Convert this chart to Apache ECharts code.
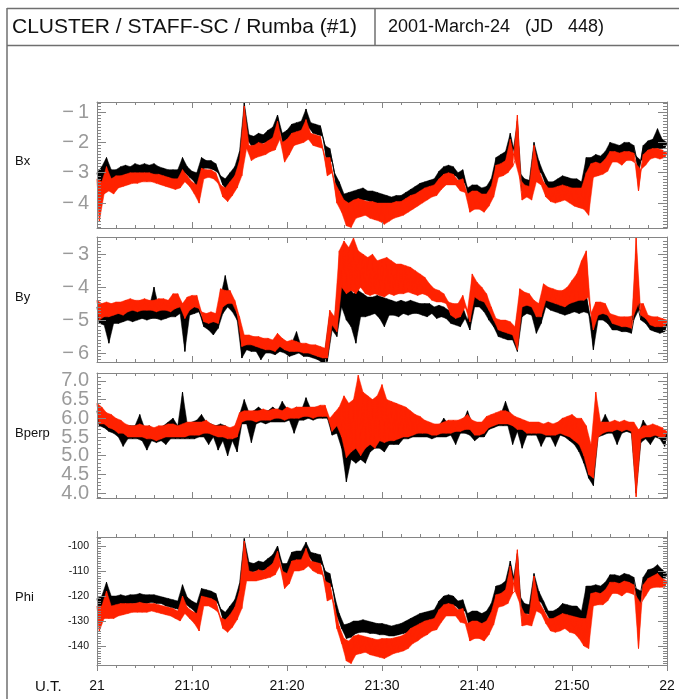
<!DOCTYPE html>
<html>
<head>
<meta charset="utf-8">
<script src="https://cdn.jsdelivr.net/npm/echarts@6/dist/echarts.min.js"></script>
<style>
html,body{margin:0;padding:0;background:#fff;}
#c{width:679px;height:699px;}
</style>
</head>
<body>
<div id="c"></div>
<script>
// Samples every 15 s (0.25 min) from 21:00 to 22:00 UT; each trace alternates
// between the upper and lower edge of its wave band.
const STEP = 0.25;
const timeLabels = ['21', '21:10', '21:20', '21:30', '21:40', '21:50', '22'];
const panelNames = ['Bx', 'By', 'Bperp', 'Phi'];

const bxBlack = [
-3.0,-3.4,-2.8,-3.2, -2.5,-3.1,-2.9,-3.3,
-2.9,-3.2,-2.8,-3.15, -2.75,-3.1,-2.8,-3.1,
-2.7,-3.05,-2.75,-3.1, -2.7,-3.05,-2.75,-3.05,
-2.7,-3.1,-2.8,-3.1, -2.85,-3.15,-2.9,-3.2,
-2.9,-3.3,-2.9,-3.25, -2.5,-3.0,-2.8,-3.15,
-2.95,-3.3,-3.0,-3.9, -2.5,-2.85,-2.6,-2.85,
-2.6,-2.9,-2.7,-3.0, -3.1,-3.4,-3.2,-3.6,
-3.0,-3.4,-2.8,-3.2, -2.3,-2.8,-0.7,-1.9,
-1.75,-2.1,-1.8,-2.1, -1.7,-2.05,-1.75,-2.0,
-1.6,-1.95,-1.5,-1.9, -1.1,-1.6,-1.7,-2.3,
-1.6,-2.0,-1.4,-1.7, -1.35,-1.65,-1.3,-1.6,
-0.9,-1.5,-1.35,-1.7, -1.4,-1.75,-1.45,-1.8,
-2.1,-2.8,-2.2,-2.6, -3.0,-3.6,-3.3,-3.8,
-3.7,-4.15,-3.65,-4.1, -3.6,-3.95,-3.55,-3.9,
-3.5,-3.9,-3.6,-3.95, -3.6,-4.0,-3.65,-4.05,
-3.7,-4.05,-3.75,-4.1, -3.8,-4.1,-3.75,-4.05,
-3.75,-4.05,-3.65,-3.95, -3.55,-3.9,-3.45,-3.8,
-3.35,-3.7,-3.3,-3.6, -3.25,-3.55,-3.2,-3.5,
-2.95,-3.3,-2.8,-3.1, -2.75,-3.1,-2.8,-3.1,
-3.0,-3.3,-2.9,-3.35, -3.5,-4.0,-3.4,-3.9,
-3.4,-3.9,-3.5,-4.0, -3.45,-3.8,-3.2,-3.5,
-2.5,-2.85,-2.4,-2.8, -2.3,-2.7,-1.7,-2.4,
-2.4,-1.3,-3.0,-3.6, -3.2,-3.5,-3.25,-3.5,
-2.0,-3.0,-2.6,-3.0, -3.0,-3.4,-3.3,-3.65,
-3.3,-3.7,-3.2,-3.6, -3.1,-3.5,-3.15,-3.55,
-3.2,-3.55,-3.2,-3.6, -3.3,-3.6,-2.5,-3.7,
-2.5,-2.85,-2.4,-2.8, -2.45,-2.8,-2.3,-2.65,
-2.0,-2.4,-2.05,-2.4, -2.1,-2.5,-2.0,-2.35,
-2.0,-2.35,-2.1,-2.45, -3.0,-2.6,-2.1,-2.5,
-1.95,-2.3,-1.9,-2.2, -1.55,-2.2,-1.9,-2.2,
-2.0
];
const bxRed = [
-3.2,-4.6,-3.3,-3.7, -2.8,-3.6,-3.2,-3.7,
-3.1,-3.5,-3.1,-3.45, -3.05,-3.4,-3.0,-3.35,
-3.0,-3.35,-3.0,-3.3, -3.0,-3.3,-3.0,-3.3,
-3.05,-3.35,-3.05,-3.4, -3.1,-3.45,-3.15,-3.5,
-3.2,-3.55,-3.2,-3.5, -2.9,-3.3,-3.1,-3.45,
-3.3,-3.7,-3.4,-4.0, -2.85,-3.2,-2.9,-3.15,
-2.9,-3.2,-3.0,-3.35, -3.4,-3.8,-3.5,-3.95,
-3.3,-3.75,-3.1,-3.5, -2.6,-3.1,-0.8,-2.2,
-2.1,-2.6,-2.1,-2.5, -2.0,-2.45,-2.05,-2.4,
-1.95,-2.3,-1.85,-2.25, -1.3,-1.9,-2.0,-2.65,
-1.9,-2.4,-1.7,-2.1, -1.65,-2.05,-1.6,-2.0,
-1.25,-1.9,-1.7,-2.1, -1.75,-2.15,-1.8,-2.2,
-2.5,-3.1,-2.5,-3.0, -3.3,-4.0,-3.6,-4.3,
-3.9,-4.75,-4.0,-4.8, -3.9,-4.5,-3.85,-4.45,
-3.9,-4.4,-3.95,-4.5, -3.95,-4.55,-4.0,-4.6,
-4.0,-4.7,-4.0,-4.6, -4.0,-4.5,-3.95,-4.45,
-3.95,-4.4,-3.85,-4.3, -3.75,-4.2,-3.7,-4.1,
-3.6,-4.0,-3.5,-3.9, -3.45,-3.8,-3.4,-3.75,
-3.2,-3.55,-3.05,-3.4, -3.0,-3.4,-3.05,-3.4,
-3.25,-3.6,-3.2,-3.65, -3.7,-4.3,-3.6,-4.2,
-3.6,-4.2,-3.7,-4.3, -3.7,-4.1,-3.45,-3.8,
-2.75,-3.15,-2.7,-3.1, -2.6,-3.0,-1.9,-2.8,
-2.6,-1.1,-3.2,-3.9, -3.4,-3.8,-3.45,-3.9,
-2.1,-3.3,-2.9,-3.4, -3.3,-3.8,-3.5,-3.95,
-3.5,-4.0,-3.45,-3.95, -3.4,-3.9,-3.45,-4.0,
-3.5,-4.1,-3.5,-4.15, -3.5,-4.2,-3.0,-4.4,
-2.7,-3.15,-2.65,-3.1, -2.7,-3.05,-2.55,-2.95,
-2.3,-2.65,-2.3,-2.65, -2.35,-2.75,-2.3,-2.6,
-2.3,-2.6,-2.35,-2.7, -3.6,-2.9,-2.4,-2.75,
-2.25,-2.55,-2.2,-2.5, -2.2,-2.55,-2.25,-2.5,
-2.35
];

const byBlack = [
-4.6,-5.1,-4.7,-5.15, -4.7,-5.7,-4.75,-5.1,
-4.7,-5.1,-4.65,-5.05, -4.65,-5.0,-4.6,-5.05,
-4.6,-5.0,-4.65,-4.95, -4.6,-5.0,-4.6,-4.95,
-4.0,-4.95,-4.6,-5.0, -4.55,-4.95,-4.6,-4.9,
-4.45,-4.9,-4.4,-4.8, -4.7,-5.95,-4.5,-4.85,
-4.45,-4.8,-4.4,-4.75, -4.9,-5.2,-4.95,-5.3,
-4.9,-5.45,-4.95,-5.25, -4.3,-4.8,-3.65,-4.6,
-4.3,-4.75,-4.6,-5.0, -5.1,-6.15,-5.6,-5.9,
-5.6,-5.95,-5.65,-5.95, -5.6,-6.2,-5.7,-6.0,
-5.65,-6.0,-5.7,-6.05, -5.5,-5.95,-5.7,-6.0,
-5.75,-6.1,-5.7,-6.05, -5.35,-6.0,-5.8,-6.1,
-5.8,-6.1,-5.85,-6.15, -5.85,-6.2,-5.9,-6.3,
-5.9,-6.25,-4.8,-5.3, -5.0,-5.5,-3.5,-4.6,
-3.9,-5.0,-4.0,-5.2, -4.2,-5.7,-4.1,-4.9,
-4.2,-4.9,-4.3,-4.85, -4.3,-4.8,-4.25,-4.95,
-4.3,-5.2,-4.35,-4.85, -4.4,-4.85,-4.45,-4.9,
-4.4,-4.8,-4.45,-4.85, -4.4,-4.8,-4.45,-4.8,
-4.5,-4.85,-4.5,-4.9, -4.5,-4.8,-4.6,-4.95,
-4.55,-4.9,-4.6,-4.95, -4.7,-5.1,-4.8,-5.15,
-4.85,-5.2,-4.6,-4.95, -5.0,-5.3,-4.0,-4.6,
-4.2,-4.6,-4.3,-4.75, -4.5,-5.0,-4.8,-5.2,
-5.05,-5.5,-5.1,-5.55, -5.1,-5.6,-5.2,-5.6,
-5.3,-5.95,-4.3,-4.9, -4.4,-4.8,-4.45,-4.85,
-4.6,-5.4,-4.7,-5.1, -4.1,-4.6,-4.3,-4.7,
-4.35,-4.75,-4.4,-4.8, -4.4,-4.85,-4.35,-4.8,
-4.3,-4.75,-4.3,-4.8, -4.2,-4.75,-4.25,-4.8,
-5.0,-5.9,-4.6,-5.0, -4.65,-5.0,-4.7,-5.1,
-4.9,-5.3,-4.95,-5.3, -5.0,-5.35,-5.0,-5.35,
-5.0,-5.4,-5.0,-3.0, -4.7,-5.0,-4.7,-5.1,
-4.9,-5.3,-5.0,-5.35, -5.0,-5.4,-5.0,-5.35,
-5.1
];
const byRed = [
-4.4,-5.0,-4.5,-4.9, -4.45,-4.9,-4.5,-4.85,
-4.45,-4.8,-4.45,-4.85, -4.4,-4.75,-4.35,-4.7,
-4.4,-4.75,-4.4,-4.7, -4.35,-4.7,-4.4,-4.7,
-4.4,-4.75,-4.35,-4.7, -4.35,-4.7,-4.4,-4.75,
-4.2,-4.65,-4.2,-4.6, -4.5,-4.95,-4.3,-4.7,
-4.25,-4.6,-4.25,-4.65, -4.75,-5.05,-4.8,-5.1,
-4.75,-5.05,-4.8,-5.1, -4.05,-4.6,-4.1,-4.5,
-4.1,-4.5,-4.4,-4.8, -4.9,-5.8,-5.45,-5.75,
-5.45,-5.75,-5.5,-5.8, -5.5,-5.85,-5.55,-5.9,
-5.55,-5.9,-5.6,-5.95, -5.4,-5.8,-5.55,-5.9,
-5.65,-5.95,-5.6,-5.95, -5.65,-5.95,-5.7,-6.0,
-5.7,-6.0,-5.75,-6.05, -5.75,-6.1,-5.8,-6.15,
-5.85,-6.15,-4.7,-5.15, -4.9,-5.35,-2.9,-4.0,
-2.6,-4.2,-2.8,-4.1, -2.5,-4.2,-2.9,-4.0,
-3.0,-4.2,-3.1,-4.25, -3.0,-4.2,-3.2,-4.25,
-3.15,-4.3,-3.1,-4.2, -3.2,-4.25,-3.3,-4.2,
-3.3,-4.2,-3.35,-4.15, -3.4,-4.2,-3.5,-4.25,
-3.6,-4.2,-3.7,-4.25, -3.9,-4.4,-4.05,-4.45,
-4.1,-4.45,-4.2,-4.5, -4.45,-4.85,-4.5,-4.95,
-4.5,-4.9,-4.25,-4.6, -4.7,-5.05,-3.6,-4.3,
-3.85,-4.4,-4.0,-4.45, -4.2,-4.7,-4.6,-5.0,
-4.95,-5.3,-5.0,-5.35, -5.0,-5.4,-5.05,-5.45,
-5.2,-5.9,-4.05,-4.6, -4.15,-4.55,-4.2,-4.6,
-4.4,-4.9,-4.5,-4.9, -3.9,-4.4,-4.0,-4.45,
-4.05,-4.5,-4.1,-4.55, -4.1,-4.6,-4.0,-4.5,
-3.8,-4.45,-3.6,-4.4, -3.2,-4.4,-2.9,-4.3,
-4.8,-5.3,-4.45,-4.85, -4.45,-4.8,-4.5,-4.85,
-4.8,-5.1,-4.85,-5.15, -4.9,-5.2,-4.9,-5.2,
-4.9,-5.25,-4.85,-2.5, -4.5,-4.85,-4.5,-4.95,
-4.85,-5.15,-4.9,-5.2, -4.9,-5.2,-4.95,-5.2,
-5.0
];

const bperpBlack = [
6.2,5.8,6.1,5.75, 6.0,5.65,5.95,5.6,
5.9,5.5,5.85,5.25, 5.8,5.45,5.8,5.45,
5.8,5.45,6.1,5.4, 5.75,5.15,5.8,5.4,
5.7,5.35,5.75,5.4, 5.8,5.3,5.9,5.45,
6.0,5.45,5.8,5.45, 6.7,5.45,5.85,5.45,
5.9,5.45,5.95,5.5, 6.1,5.5,5.9,5.3,
5.85,5.5,5.8,5.15, 5.85,5.4,5.8,5.0,
5.7,5.4,5.75,5.1, 6.1,5.85,6.5,5.85,
6.15,5.35,6.2,5.85, 6.3,5.9,6.2,5.85,
6.2,5.9,6.3,5.9, 6.2,5.9,6.45,5.9,
6.25,5.95,6.2,5.6, 6.3,5.95,6.2,5.95,
6.55,6.0,6.25,5.95, 6.3,6.0,6.3,6.0,
6.3,6.0,5.9,5.55, 6.1,5.6,6.0,5.2,
6.3,4.3,6.2,4.9, 6.3,4.8,6.6,4.9,
6.5,4.8,6.3,5.1, 6.3,5.2,6.4,5.2,
6.5,5.1,6.3,5.3, 6.3,5.3,6.2,5.3,
6.2,5.45,6.1,5.45, 6.05,5.5,5.95,5.5,
5.9,5.5,5.85,5.5, 5.85,5.45,5.75,5.5,
5.8,5.5,6.0,5.5, 5.85,5.55,5.9,5.3,
5.9,5.6,5.9,5.6, 6.2,5.55,5.85,5.4,
5.8,5.5,5.85,5.5, 5.95,5.7,6.0,5.75,
6.1,5.8,6.1,5.8, 6.45,5.8,6.1,5.3,
5.95,5.65,5.9,5.2, 5.85,5.55,5.8,5.55,
5.8,5.55,5.8,5.25, 5.8,5.5,5.75,5.5,
5.75,5.25,5.8,5.55, 6.0,5.5,5.95,5.4,
6.0,5.3,5.9,5.1, 5.8,4.8,5.7,4.4,
5.0,4.2,6.3,5.5, 5.85,5.55,6.1,5.6,
5.85,5.6,5.9,5.3, 5.85,5.6,5.9,5.65,
5.85,5.6,5.8,4.0, 5.6,5.35,5.95,5.45,
5.75,5.3,5.8,5.5, 5.75,5.45,5.7,5.25,
5.6
];
const bperpRed = [
6.4,5.85,6.3,5.85, 6.15,5.75,6.1,5.7,
6.0,5.6,5.95,5.6, 5.85,5.5,5.8,5.5,
5.8,5.5,5.85,5.5, 5.8,5.45,5.8,5.45,
5.75,5.4,5.8,5.45, 5.8,5.5,5.85,5.5,
5.85,5.5,5.8,5.5, 5.85,5.5,5.9,5.55,
5.9,5.55,5.9,5.55, 5.9,5.6,5.95,5.6,
5.85,5.55,5.8,5.5, 5.8,5.5,5.8,5.45,
5.75,5.45,5.8,5.5, 6.15,5.9,6.2,5.95,
6.2,5.95,6.2,5.9, 6.2,5.95,6.25,5.95,
6.2,5.95,6.25,6.0, 6.25,6.0,6.2,5.95,
6.3,6.0,6.25,6.0, 6.3,6.0,6.3,6.05,
6.3,6.05,6.3,6.0, 6.3,6.05,6.35,6.05,
6.35,6.05,6.0,5.65, 6.15,5.8,6.3,5.5,
6.6,4.95,6.4,5.1, 6.5,5.2,7.15,5.0,
6.7,5.2,6.6,5.3, 6.5,5.2,6.6,5.4,
6.9,5.35,6.5,5.4, 6.45,5.4,6.4,5.45,
6.35,5.5,6.3,5.5, 6.2,5.55,6.1,5.6,
6.05,5.6,5.95,5.6, 5.9,5.55,5.85,5.55,
5.85,5.6,5.9,5.6, 5.95,5.6,5.95,5.65,
5.95,5.65,6.0,5.7, 6.1,5.7,5.95,5.55,
5.9,5.55,5.9,5.6, 6.05,5.75,6.1,5.8,
6.15,5.85,6.2,5.85, 6.2,5.85,6.15,5.8,
6.05,5.7,6.0,5.7, 5.95,5.6,5.9,5.6,
5.9,5.6,5.9,5.6, 5.85,5.55,5.9,5.55,
5.85,5.55,5.9,5.6, 6.0,5.55,6.05,5.5,
6.1,5.4,6.0,5.3, 6.0,5.0,5.8,4.5,
5.3,4.4,6.7,5.5, 5.9,5.6,5.9,5.65,
5.9,5.65,5.95,5.7, 5.9,5.65,5.95,5.7,
5.9,5.65,5.9,3.9, 5.7,5.45,5.8,5.5,
5.8,5.5,5.85,5.55, 5.8,5.5,5.75,5.5,
5.65
];

const phiBlack = [
-121,-126,-120,-124, -114.5,-125,-120,-124,
-120,-124,-119.5,-123.5, -120,-123.5,-119.5,-123,
-119.5,-123,-119,-123, -119.5,-123,-119.5,-122.5,
-119.5,-123,-120,-123, -120.5,-124,-121,-124.5,
-121.5,-125,-122,-125.5, -115.5,-123,-120.5,-124.5,
-122,-126,-123,-131, -117,-121,-117.5,-121,
-118,-121.5,-119,-123, -125,-129,-126.5,-131.5,
-124,-129,-121.5,-126, -115,-121,-97,-110,
-106.5,-110.5,-107,-110, -106,-110,-106.5,-109.5,
-105,-109,-103.5,-108, -100,-105,-107,-113,
-107,-111,-102.5,-106, -102,-106,-102,-105.5,
-98.5,-104,-102.5,-106.5, -103,-107,-103.5,-107.5,
-110,-118,-111,-116, -120,-128,-127,-133,
-131.5,-137,-131,-136.5, -130,-135,-130,-134.5,
-129.5,-134.5,-130,-135, -130.5,-135,-131,-135.5,
-131,-135.5,-131.5,-136, -132,-136,-131.5,-135.5,
-131,-135,-130,-134.5, -129,-133.5,-128,-132.5,
-127,-131.5,-126.5,-130.5, -126,-129.5,-125.5,-129,
-122,-126.5,-120,-124, -119.5,-123.5,-120,-124,
-122,-126,-121.5,-126, -127,-133,-126,-132,
-126,-132,-127,-133, -126,-131,-123,-127.5,
-116,-120.5,-115.5,-120, -114,-119,-106,-115,
-115,-103,-120,-128, -123,-127,-123.5,-127.5,
-111,-122,-118,-122.5, -122,-126.5,-126,-130,
-126,-130.5,-125,-129.5, -123,-128,-123.5,-128.5,
-124,-128.5,-124,-129, -126,-129,-116,-131,
-116,-120.5,-115.5,-120, -116,-120.5,-114.5,-119,
-111.5,-116,-111.5,-116, -112,-117,-111,-115.5,
-111.5,-116,-112.5,-117, -132,-118,-112.5,-117,
-109.5,-114,-109,-113.5, -107.5,-113.5,-109.5,-113,
-111
];
const phiRed = [
-124,-134,-124,-129, -118,-129,-124,-129,
-123.5,-128,-123,-127.5, -123,-127,-123,-126.5,
-123,-126.5,-122.5,-126.5, -123,-126.5,-123,-126,
-123,-126.5,-123.5,-127, -124,-127.5,-124.5,-128,
-125,-129,-126,-130, -120,-127,-124.5,-129,
-126,-131,-127,-134, -120,-124,-120.5,-124,
-121,-125,-122,-126.5, -128.5,-133,-129.5,-134.5,
-127.5,-132.5,-124.5,-129.5, -118,-125,-98,-114,
-110,-114,-110.5,-114, -109.5,-113.5,-110,-113,
-108.5,-112.5,-107,-111.5, -102,-108,-110,-117,
-111,-115,-106,-110, -105.5,-110,-105.5,-109.5,
-101,-108,-106,-110, -106.5,-111,-107,-111.5,
-114,-122,-115,-121, -124,-133,-132,-139,
-137,-146,-138,-147, -136,-143.5,-135.5,-143,
-136,-142.5,-136.5,-143.5, -137,-144,-137.5,-144.5,
-137,-145,-137,-144, -137,-143,-136.5,-142.5,
-136,-142,-135,-141, -133,-139,-132,-138,
-131,-136.5,-130,-135.5, -129.5,-134,-129,-133.5,
-125.5,-130.5,-123.5,-128, -123,-128,-123.5,-128,
-125.5,-130.5,-125,-131, -131,-138,-130,-137,
-130,-137,-131,-138, -130,-135.5,-126.5,-131.5,
-119.5,-124.5,-119,-124, -117.5,-123,-108,-119,
-118,-101.5,-123,-132, -127,-131.5,-127.5,-132,
-112,-126,-122,-127, -125.5,-131,-129,-134,
-129,-134.5,-128,-134, -127,-133,-127.5,-134.5,
-128,-135,-128.5,-137, -129,-140,-129,-141,
-119,-124,-118.5,-123.5, -119,-123.5,-117.5,-122,
-114.5,-119,-114.5,-119, -115,-120,-114,-118.5,
-114.5,-119,-115.5,-120, -141,-123,-115.5,-120,
-113,-117,-112,-116.5, -111,-116.5,-113,-116.5,
-114
];

// ---- styling / layout ----
const FONT = '"Liberation Sans", Arial, Helvetica, sans-serif';
const AXIS_GREY = '#858585';
const BLACK = '#000000';
const RED = '#ff2200';
const PLOT_LEFT = 97, PLOT_WIDTH = 570;

function isStep(v, step) { return Math.abs(v / step - Math.round(v / step)) < 1e-6; }
const bigLabel = { fontSize: 20, color: '#9a9a9a', fontFamily: FONT, margin: 8 };

const panels = [
  { black: bxBlack, red: bxRed, top: 102, height: 126, min: -4.82, max: -0.67, step: 1, minor: 10,
    label: Object.assign({}, bigLabel, { formatter: v => isStep(v, 1) ? '\u2212\u2009' + Math.abs(Math.round(v)) : '' }),
    nameY: 161, outTicks: false },
  { black: byBlack, red: byRed, top: 237, height: 125, min: -6.27, max: -2.48, step: 1, minor: 10,
    label: Object.assign({}, bigLabel, { formatter: v => isStep(v, 1) ? '\u2212\u2009' + Math.abs(Math.round(v)) : '' }),
    nameY: 297, outTicks: false },
  { black: bperpBlack, red: bperpRed, top: 373, height: 125, min: 3.87, max: 7.21, step: 0.5, minor: 5,
    label: Object.assign({}, bigLabel, { formatter: v => isStep(v, 0.5) ? v.toFixed(1) : '' }),
    nameY: 433, outTicks: false },
  { black: phiBlack, red: phiRed, top: 537, height: 128, min: -147.6, max: -96.4, step: 10, minor: 10,
    label: { fontSize: 10.5, color: '#111', fontFamily: FONT, margin: 8,
             formatter: v => isStep(v, 10) ? String(Math.round(v)) : '' },
    nameY: 597, outTicks: true }
];

// Filled wave band: upper edge through the even samples, lower edge back through the odd ones.
function bandSeries(vals, color, axisIdx, z) {
  return {
    type: 'custom', xAxisIndex: axisIdx, yAxisIndex: axisIdx, silent: true, clip: true, z: z,
    data: [[0, vals[0]]],
    renderItem: function (params, api) {
      const upper = [], lower = [];
      vals.forEach((v, k) => {
        const pt = api.coord([k * STEP, v]);
        if (k % 2 === 0) upper.push(pt); else lower.push(pt);
      });
      return { type: 'polygon', shape: { points: upper.concat(lower.reverse()) },
               style: { fill: color, stroke: color, lineWidth: 0.5 } };
    }
  };
}

const grids = [], xAxes = [], yAxes = [], series = [], graphics = [];

panels.forEach((p, i) => {
  grids.push({ left: PLOT_LEFT, width: PLOT_WIDTH, top: p.top, height: p.height,
               containLabel: false, outerBoundsMode: 'none' });

  const xCommon = {
    type: 'value', gridIndex: i, min: 0, max: 60, interval: 10, z: 10,
    axisLine: { show: true, onZero: false, lineStyle: { color: AXIS_GREY, width: 1 } },
    axisTick: { show: true, inside: !p.outTicks, length: 6, lineStyle: { color: AXIS_GREY, width: 1 } },
    minorTick: { show: true, splitNumber: 5, length: 3, lineStyle: { color: AXIS_GREY, width: 1 } },
    splitLine: { show: false }, minorSplitLine: { show: false }
  };
  const last = i === panels.length - 1;
  xAxes.push(Object.assign({}, xCommon, {
    position: 'bottom',
    axisLabel: last ? { show: true, fontSize: 14, color: '#111', fontFamily: FONT, margin: 14,
                        showMinLabel: true, showMaxLabel: true, hideOverlap: false,
                        formatter: v => timeLabels[Math.round(v / 10)] } : { show: false }
  }));
  xAxes.push(Object.assign({}, xCommon, { position: 'top', axisLabel: { show: false } }));

  const yCommon = {
    type: 'value', gridIndex: i, min: p.min, max: p.max, scale: true, z: 10,
    splitNumber: 5, minInterval: p.step, maxInterval: p.step,
    axisLine: { show: true, onZero: false, lineStyle: { color: AXIS_GREY, width: 1 } },
    axisTick: { show: true, inside: true, length: 9, lineStyle: { color: AXIS_GREY, width: 1 } },
    minorTick: { show: true, splitNumber: p.minor, length: 4, lineStyle: { color: AXIS_GREY, width: 1 } },
    splitLine: { show: false }, minorSplitLine: { show: false }
  };
  yAxes.push(Object.assign({}, yCommon, {
    position: 'left',
    axisLabel: Object.assign({ show: true, showMinLabel: true, showMaxLabel: true, hideOverlap: false }, p.label)
  }));
  yAxes.push(Object.assign({}, yCommon, { position: 'right', axisLabel: { show: false } }));

  const toPoints = vals => vals.map((v, k) => [k * STEP, v]);
  // black trace first, red trace drawn over it
  [[p.black, BLACK, 2], [p.red, RED, 4]].forEach(([vals, color, z]) => {
    series.push(bandSeries(vals, color, 2 * i, z));
    series.push({
      type: 'line', xAxisIndex: 2 * i, yAxisIndex: 2 * i, data: toPoints(vals), z: z + 1,
      showSymbol: false, symbol: 'none', silent: true, clip: true,
      lineStyle: { color: color, width: 0.9 }, emphasis: { disabled: true }
    });
  });

  graphics.push({ type: 'text', x: 15, y: p.nameY,
    style: { text: panelNames[i], fontSize: 13, fontFamily: FONT, fill: '#111', verticalAlign: 'middle' } });
});

// page frame and heading box
const FRAME = '#6f6f6f';
graphics.push(
  { type: 'line', shape: { x1: 7, y1: 8, x2: 7, y2: 699 }, style: { stroke: FRAME, lineWidth: 1.5 } },
  { type: 'line', shape: { x1: 7, y1: 8.5, x2: 679, y2: 8.5 }, style: { stroke: FRAME, lineWidth: 1.5 } },
  { type: 'line', shape: { x1: 7, y1: 45.5, x2: 679, y2: 45.5 }, style: { stroke: FRAME, lineWidth: 1.5 } },
  { type: 'line', shape: { x1: 375, y1: 8, x2: 375, y2: 45 }, style: { stroke: FRAME, lineWidth: 1.5 } },
  { type: 'text', x: 12, y: 27,
    style: { text: 'CLUSTER / STAFF-SC / Rumba (#1)', fontSize: 21, fontFamily: FONT, fill: '#111', verticalAlign: 'middle' } },
  { type: 'text', x: 388, y: 27,
    style: { text: '2001-March-24   (JD   448)', fontSize: 18, fontFamily: FONT, fill: '#111', verticalAlign: 'middle' } },
  { type: 'text', x: 35, y: 687,
    style: { text: 'U.T.', fontSize: 15, fontFamily: FONT, fill: '#111', verticalAlign: 'middle' } }
);

const chart = echarts.init(document.getElementById('c'), null, { renderer: 'canvas', width: 679, height: 699 });
chart.setOption({
  animation: false,
  backgroundColor: '#ffffff',
  grid: grids,
  xAxis: xAxes,
  yAxis: yAxes,
  series: series,
  graphic: graphics
});
</script>
</body>
</html>
